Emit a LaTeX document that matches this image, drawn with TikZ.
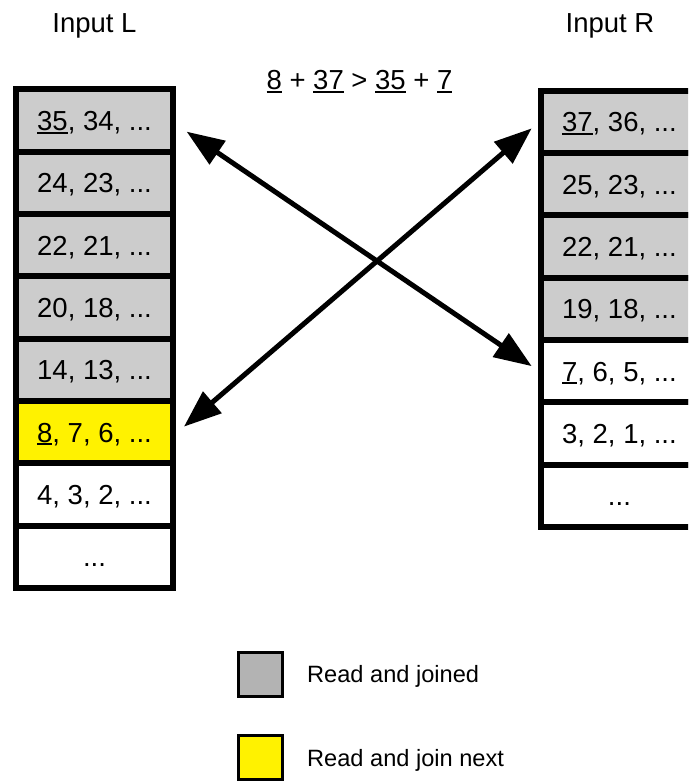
\documentclass[tikz,border=0pt]{standalone}
\usepackage{fontspec}
\setmainfont{Liberation Sans}
\usetikzlibrary{arrows.meta}
\definecolor{cellgray}{HTML}{CCCCCC}
\definecolor{keygray}{HTML}{B3B3B3}
% underline a number with a rule just below the baseline
\newcommand\ulnum[1]{\leavevmode\setbox0\hbox{#1}\rlap{\rule[-3pt]{\wd0}{2pt}}\box0\relax}
\begin{document}
\begin{tikzpicture}[x=1pt,y=-1pt,
  bigtext/.style={font=\fontsize{27.5}{33}\selectfont},
  keytext/.style={font=\fontsize{23.6}{28}\selectfont, inner sep=0pt, anchor=base west},
  cell/.style={draw, line width=6pt, minimum width=156.5pt, minimum height=62.3pt,
    inner sep=0pt, outer sep=0pt, bigtext, text height=19.7pt, text depth=0pt},
  donecell/.style={cell, fill=cellgray},
  nextcell/.style={cell, fill=yellow},
  opencell/.style={cell, fill=white},
  below/.style={anchor=north},
  keybox/.style={draw, line width=3pt, minimum size=44pt, inner sep=0pt},
  link/.style={line width=5pt,
    {Triangle[length=37.5pt,width=27.6pt]}-{Triangle[length=37.5pt,width=27.6pt]}}
]
\useasboundingbox (0,0) rectangle (688,781);
\clip (0,0) rectangle (688,781);

% titles
\node[bigtext, anchor=base, inner sep=0pt] (inL) at (94.5,32.3) {Input L};
\node[bigtext, anchor=base, inner sep=0pt] (inR) at (610,32.3) {Input R};
\node[bigtext, anchor=base, inner sep=0pt] (eq) at (359.5,90)
  {\ulnum{8} + \ulnum{37} > \ulnum{35} + \ulnum{7}};

% left input
\node[donecell, anchor=north] (L1) at (94.5,89.5) {\ulnum{35}, 34, ...};
\node[donecell, below] (L2) at (L1.south) {24, 23, ...};
\node[donecell, below] (L3) at (L2.south) {22, 21, ...};
\node[donecell, below] (L4) at (L3.south) {20, 18, ...};
\node[donecell, below] (L5) at (L4.south) {14, 13, ...};
\node[nextcell, below] (L6) at (L5.south) {\ulnum{8}, 7, 6, ...};
\node[opencell, below] (L7) at (L6.south) {4, 3, 2, ...};
\node[opencell, below] (L8) at (L7.south) {...};

% right input
\node[donecell, anchor=north] (R1) at (619.45,90.8) {\ulnum{37}, 36, ...};
\node[donecell, below] (R2) at (R1.south) {25, 23, ...};
\node[donecell, below] (R3) at (R2.south) {22, 21, ...};
\node[donecell, below] (R4) at (R3.south) {19, 18, ...};
\node[opencell, below] (R5) at (R4.south) {\ulnum{7}, 6, 5, ...};
\node[opencell, below] (R6) at (R5.south) {3, 2, 1, ...};
\node[opencell, below] (R7) at (R6.south) {...};

% crossing comparisons
\coordinate (a1) at ([shift={(13.9,11)}]L1.east);
\coordinate (a2) at ([shift={(-9.5,-5)}]R5.west);
\coordinate (b1) at ([shift={(-9.5,6.4)}]R1.west);
\coordinate (b2) at ([shift={(11.2,-5.5)}]L6.east);
\draw[link] (a1) -- (a2);
\draw[link] (b1) -- (b2);

% legend
\node[keybox, fill=keygray] (k1) at (260.5,674.5) {};
\node[keybox, fill=yellow] (k2) at (260.5,757.5) {};
\node[keytext] (t1) at (307,682.7) {Read and joined};
\node[keytext] (t2) at (307,766.7) {Read and join next};
\end{tikzpicture}
\end{document}
